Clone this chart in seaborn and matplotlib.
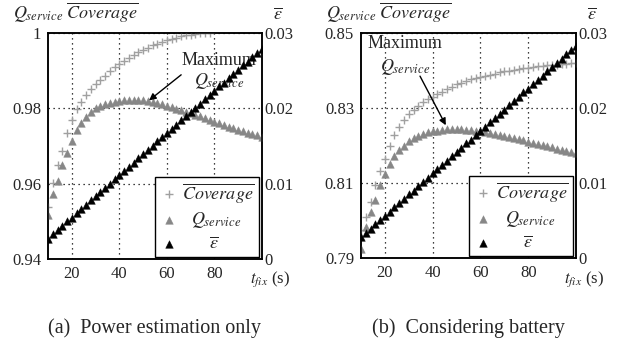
import numpy as np
import matplotlib
matplotlib.use("Agg")
import matplotlib.pyplot as plt
import seaborn as sns

# ---------------- data ----------------
t_fix = [10, 12, 14, 16, 18, 20, 22, 24, 26, 28, 30, 32, 34, 36, 38, 40, 42, 44, 46, 48,
         50, 52, 54, 56, 58, 60, 62, 64, 66, 68, 70, 72, 74, 76, 78, 80, 82, 84, 86, 88,
         90, 92, 94, 96, 98, 100]

nan = float("nan")
# (a) power estimation only
cov_a = [0.9539, 0.9603, 0.9650, 0.9688, 0.9734, 0.9768, 0.9797, 0.9818, 0.9836, 0.9851,
         0.9864, 0.9876, 0.9887, 0.9898, 0.9909, 0.9918, 0.9926, 0.9934, 0.9942, 0.9949,
         0.9955, 0.9961, 0.9967, 0.9972, 0.9977, 0.9981, 0.9985, 0.9988, 0.9991, 0.9994,
         0.9996, 0.9998, 0.9999, 1.0000, 1.0000, nan, nan, nan, nan, nan,
         nan, nan, nan, nan, nan, nan]
q_a = [0.9517, 0.9572, 0.9608, 0.9650, 0.9682, 0.9712, 0.9742, 0.9762, 0.9778, 0.9790,
       0.9800, 0.9807, 0.9812, 0.9815, 0.9818, 0.9820, 0.9821, 0.9822, 0.9822, 0.9822,
       0.9821, 0.9819, 0.9817, 0.9814, 0.9811, 0.9807, 0.9803, 0.9799, 0.9795, 0.9791,
       0.9787, 0.9783, 0.9779, 0.9774, 0.9770, 0.9765, 0.9760, 0.9756, 0.9751, 0.9747,
       0.9743, 0.9739, 0.9735, 0.9731, 0.9728, 0.9725]
eps_a = [0.0027, 0.0033, 0.0038, 0.0044, 0.0050, 0.0055, 0.0061, 0.0066, 0.0072, 0.0078,
         0.0083, 0.0089, 0.0094, 0.0100, 0.0106, 0.0111, 0.0117, 0.0122, 0.0128, 0.0134,
         0.0139, 0.0145, 0.0150, 0.0156, 0.0162, 0.0167, 0.0173, 0.0178, 0.0184, 0.0190,
         0.0195, 0.0201, 0.0206, 0.0212, 0.0218, 0.0223, 0.0229, 0.0234, 0.0240, 0.0246,
         0.0251, 0.0257, 0.0262, 0.0268, 0.0274, 0.0279]

# (b) considering battery
cov_b = [0.7975, 0.8010, 0.8050, 0.8095, 0.8133, 0.8165, 0.8200, 0.8228, 0.8250, 0.8268,
         0.8283, 0.8296, 0.8306, 0.8315, 0.8323, 0.8330, 0.8337, 0.8344, 0.8351, 0.8357,
         0.8363, 0.8368, 0.8373, 0.8377, 0.8380, 0.8383, 0.8386, 0.8389, 0.8392, 0.8395,
         0.8398, 0.8400, 0.8402, 0.8404, 0.8406, 0.8408, 0.8410, 0.8411, 0.8413, 0.8414,
         0.8415, 0.8416, 0.8417, 0.8418, 0.8419, 0.8420]
q_b = [0.7924, 0.7982, 0.8024, 0.8056, 0.8094, 0.8124, 0.8150, 0.8172, 0.8187, 0.8200,
       0.8211, 0.8220, 0.8226, 0.8231, 0.8235, 0.8238, 0.8240, 0.8242, 0.8243, 0.8243,
       0.8243, 0.8243, 0.8242, 0.8241, 0.8239, 0.8238, 0.8236, 0.8234, 0.8232, 0.8229,
       0.8226, 0.8223, 0.8220, 0.8217, 0.8214, 0.8210, 0.8207, 0.8204, 0.8201, 0.8198,
       0.8195, 0.8192, 0.8189, 0.8186, 0.8183, 0.8180]
eps_b = [0.0028, 0.0034, 0.0039, 0.0045, 0.0051, 0.0056, 0.0062, 0.0068, 0.0073, 0.0079,
         0.0085, 0.0090, 0.0096, 0.0102, 0.0107, 0.0113, 0.0119, 0.0124, 0.0130, 0.0136,
         0.0141, 0.0147, 0.0153, 0.0158, 0.0164, 0.0170, 0.0175, 0.0181, 0.0187, 0.0192,
         0.0198, 0.0204, 0.0209, 0.0215, 0.0221, 0.0226, 0.0232, 0.0238, 0.0243, 0.0249,
         0.0255, 0.0260, 0.0266, 0.0272, 0.0277, 0.0283]

x_ticks = [20, 40, 60, 80]
x_ticklabels = ["20", "40", "60", "80"]
yl_ticks_a = [0.94, 0.96, 0.98, 1.0]
yl_labels_a = ["0.94", "0.96", "0.98", "1"]
yl_ticks_b = [0.79, 0.81, 0.83, 0.85]
yl_labels_b = ["0.79", "0.81", "0.83", "0.85"]
yr_ticks = [0, 0.01, 0.02, 0.03]
yr_labels = ["0", "0.01", "0.02", "0.03"]
captions = ["(a)  Power estimation only", "(b)  Considering battery"]

# ---------------- style ----------------
sns.set_style("white")
plt.rcParams["font.family"] = ["Liberation Serif", "DejaVu Serif"]
plt.rcParams["mathtext.fontset"] = "stix"

W, H = 623, 347
fig = plt.figure(figsize=(W / 100, H / 100), dpi=100)


def fx(px):
    return px / W


def fy(py):
    return 1 - py / H


COV_C = "#a0a0a0"
Q_C = "#878787"

panels = [
    dict(box=(48, 33, 262, 259), cov=cov_a, q=q_a, eps=eps_a, ylim=(0.94, 1.0),
         yt=yl_ticks_a, yl=yl_labels_a, cap=captions[0],
         max_txt=(82, 0.9928, 0.9873), arrow=((52.5, 0.9821), (66, 0.9889))),
    dict(box=(361, 33, 576, 258), cov=cov_b, q=q_b, eps=eps_b, ylim=(0.79, 0.85),
         yt=yl_ticks_b, yl=yl_labels_b, cap=captions[1],
         max_txt=(28.4, 0.8473, 0.8409), arrow=((45.5, 0.8254), (34.7, 0.8385))),
]

for p in panels:
    x0, y0, x1, y1 = p["box"]
    ax = fig.add_axes([fx(x0), fy(y1), (x1 - x0) / W, (y1 - y0) / H])
    ax2 = ax.twinx()

    sns.scatterplot(x=t_fix, y=p["cov"], ax=ax, marker="+", color=COV_C, s=38,
                    linewidth=1.0, legend=False, zorder=3)
    sns.scatterplot(x=t_fix, y=p["q"], ax=ax, marker="^", color=Q_C, s=30,
                    edgecolor=Q_C, linewidth=0.3, legend=False, zorder=3)
    sns.scatterplot(x=t_fix, y=p["eps"], ax=ax2, marker="^", color="black", s=30,
                    edgecolor="black", linewidth=0.3, legend=False, zorder=3)

    ax.set_xlim(10, 100)
    ax.set_ylim(*p["ylim"])
    ax2.set_ylim(0, 0.03)
    ax.set_xticks(x_ticks)
    ax.set_xticklabels(x_ticklabels)
    ax.set_yticks(p["yt"])
    ax.set_yticklabels(p["yl"])
    ax2.set_yticks(yr_ticks)
    ax2.set_yticklabels(yr_labels)

    ax.grid(True, linestyle=(0, (1, 3)), color="black", linewidth=0.9)
    ax2.grid(False)
    ax.tick_params(axis="both", length=0, labelsize=12, pad=5)
    ax2.tick_params(axis="y", length=0, labelsize=12, pad=2)
    for a in (ax, ax2):
        for s in a.spines.values():
            s.set_color("black")
            s.set_linewidth(1.1)
    ax.set_xlabel("")
    ax.set_ylabel("")
    ax2.set_ylabel("")

    # annotation
    tx, ty1, ty2 = p["max_txt"]
    ax.text(tx, ty1, "Maximum", ha="center", va="center", fontsize=13, zorder=1)
    ax.text(tx, ty2, r"$Q_{service}$", ha="center", va="center", fontsize=13, zorder=1)
    (hx, hy), (sx, sy) = p["arrow"]
    ax.annotate("", xy=(hx, hy), xytext=(sx, sy),
                arrowprops=dict(arrowstyle="-|>", color="black", lw=1.0,
                                mutation_scale=10, shrinkA=0, shrinkB=0))

    # legend
    handles = [ax.collections[0], ax.collections[1], ax2.collections[0]]
    labels = [r"$\overline{Coverage}$", r"  $Q_{service}$", r"      $\overline{\varepsilon}$"]
    lg = ax2.legend(handles, labels, loc="lower right", bbox_to_anchor=(0.985, 0.008),
                    fontsize=13, frameon=True, fancybox=False, framealpha=1,
                    edgecolor="black", borderpad=0.25, labelspacing=0.3,
                    handletextpad=0.25, handlelength=1.0, borderaxespad=0)
    lg.get_frame().set_linewidth(1.0)

    # axis titles
    fig.text(fx(x0 - 35), fy(19), r"$Q_{service}\ \overline{Coverage}$",
             ha="left", va="baseline", fontsize=13)
    fig.text(fx(x1 + 16), fy(19), r"$\overline{\varepsilon}$",
             ha="center", va="baseline", fontsize=13)
    fig.text(fx(x1 - 12), fy(283), r"$t_{fix}$ (s)", ha="left", va="baseline",
             fontsize=12)
    fig.text(fx((x0 + x1) / 2), fy(333), p["cap"], ha="center", va="baseline",
             fontsize=14.5)

fig.savefig("out.png", dpi=100)
